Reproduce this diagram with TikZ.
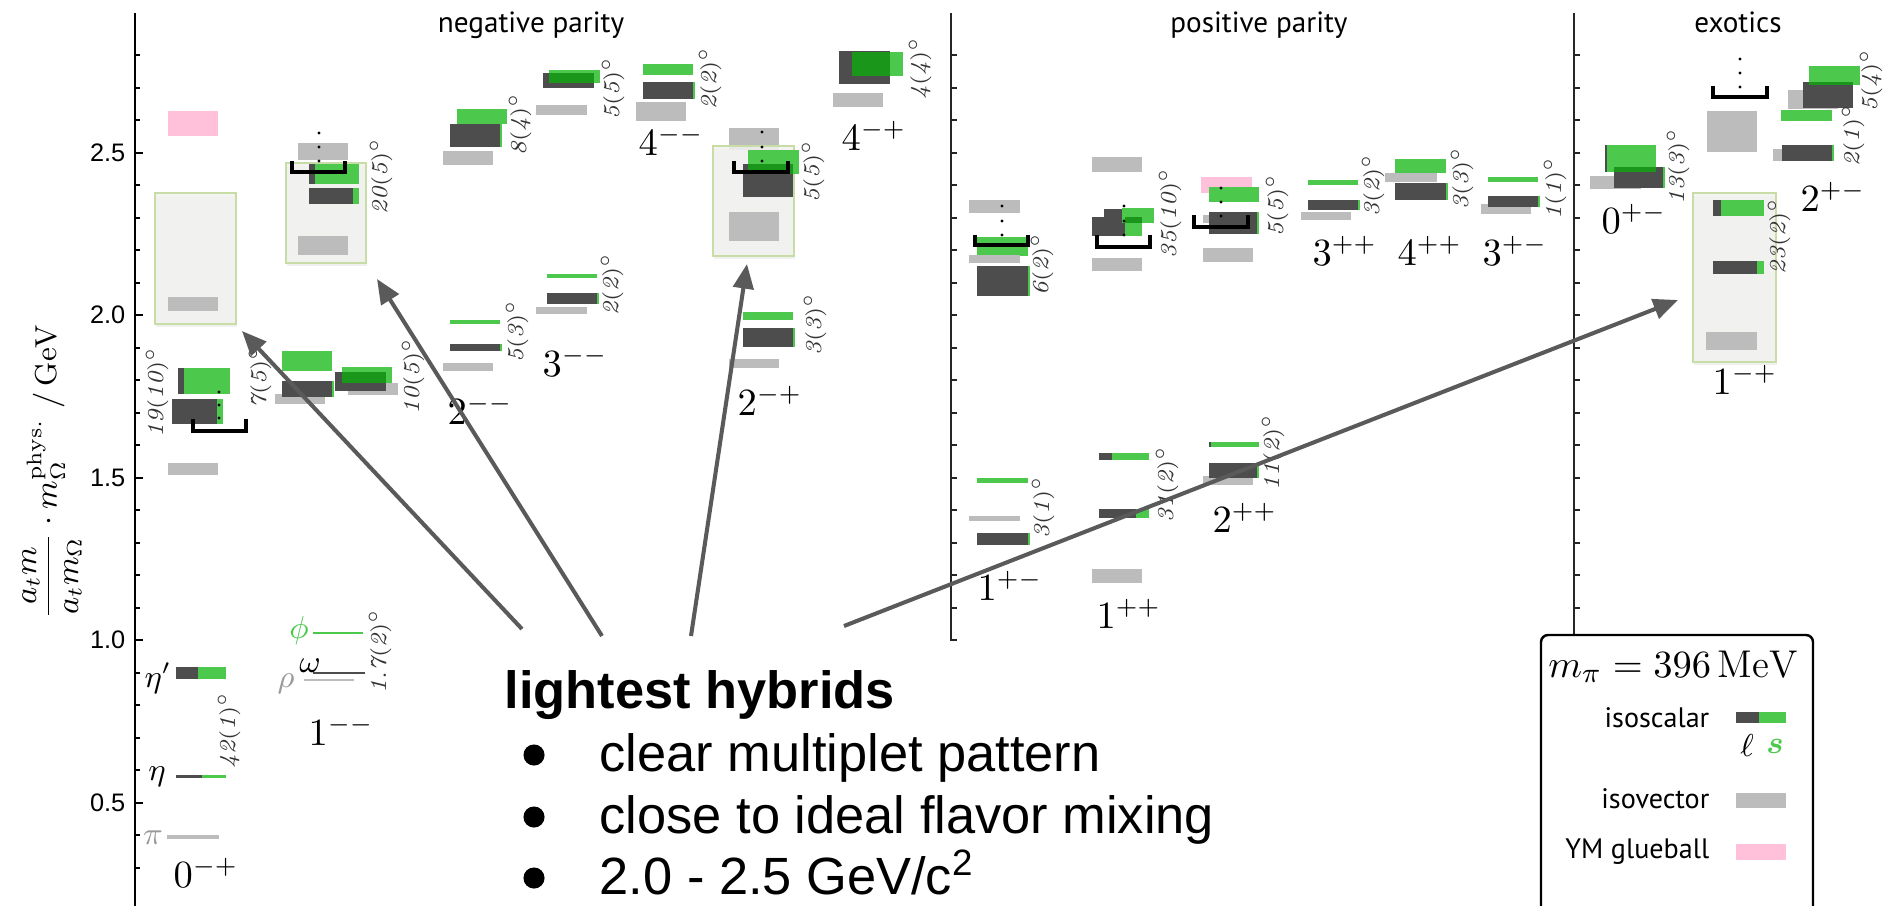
\documentclass[tikz,border=0pt]{standalone}
\usepackage{fontspec}
\usepackage{amsmath}
\usepackage{amssymb}
\usetikzlibrary{arrows.meta,shadows}

\newfontfamily\ptsans{PT Sans}
\newfontfamily\arial{Liberation Sans}

\definecolor{isoL}{RGB}{77,77,77}
\definecolor{isoS}{RGB}{76,201,76}
\definecolor{isoV}{RGB}{188,188,188}
\definecolor{glue}{RGB}{255,192,218}
\definecolor{mixd}{RGB}{26,150,26}
\definecolor{hybfill}{RGB}{242,242,240}
\definecolor{hybedge}{RGB}{200,220,165}
\definecolor{arrgray}{RGB}{90,90,90}

\begin{document}
\begin{tikzpicture}[x=0.01cm, y=-0.01cm,
    dk/.style={fill=isoL}, gr/.style={fill=isoS}, iv/.style={fill=isoV},
    gb/.style={fill=glue}, mx/.style={fill=mixd},
    hyb/.style={fill=hybfill, fill opacity=0.85, draw=hybedge, line width=0.6pt,
        drop shadow={opacity=0.12, shadow xshift=0.4pt, shadow yshift=-0.8pt}},
    brk/.style={draw=black, line width=1pt},
    ang/.style={rotate=90, inner sep=0pt, text=black!80, font=\fontsize{6.5}{7}\selectfont},
    jpc/.style={anchor=base west, inner sep=0pt, font=\fontsize{10.5}{12}\selectfont},
    pl/.style={inner sep=0pt, font=\fontsize{8.7}{10}\selectfont},
    ttl/.style={anchor=base, font=\ptsans\fontsize{8.3}{10}\selectfont},
    tlab/.style={anchor=east, inner sep=0pt, font=\arial\fontsize{7.2}{8}\selectfont},
    leg/.style={anchor=base east, inner sep=0pt, font=\ptsans\fontsize{8}{10}\selectfont},
    btxt/.style={anchor=base west, inner sep=0pt, font=\arial\fontsize{14.9}{18}\selectfont},
    hyarr/.style={draw=arrgray, line width=1.15pt, -{Triangle[length=7pt,width=5.8pt]}}]

    \useasboundingbox (0,0) rectangle (1884,906);

    % axes
    \draw[line width=0.85pt] (135,13) -- (135,906);
    \foreach \i in {3,...,28} \draw[line width=0.5pt] (135,{152.7+(25-\i)*32.5}) -- ++(5,0);
    \foreach \i in {5,10,...,25} \draw[line width=0.6pt] (135,{152.7+(25-\i)*32.5}) -- ++(8,0);
    \foreach \v/\i in {0.5/5,1.0/10,1.5/15,2.0/20,2.5/25}
        \node[tlab] at (126,{152.7+(25-\i)*32.5}) {\v};
    \draw[line width=0.6pt, black!85] (951,13) -- (951,641);
    \foreach \i in {10,...,28} \draw[line width=0.5pt, black!85] (951,{152.7+(25-\i)*32.5}) -- ++(6,0);
    \draw[line width=0.6pt, black!85] (1574,13) -- (1574,641);
    \foreach \i in {10,...,28} \draw[line width=0.5pt, black!85] (1574,{152.7+(25-\i)*32.5}) -- ++(6,0);

    \node[rotate=90, font=\fontsize{8.6}{10}\selectfont] (ylab) at (52,472)
        {$\dfrac{a_t m}{a_t m_\Omega}\cdot m_\Omega^{\mathrm{phys.}}\ /\,\mathrm{GeV}$};

    \node[ttl] (neg) at (531,32) {negative parity};
    \node[ttl] (pos) at (1259,32) {positive parity};
    \node[ttl] (exo) at (1738,32) {exotics};

    % 0-+
    \fill[gb] (168,111) rectangle (218,136);
    \path[hyb] (155,193) rectangle (236,324);
    \fill[iv] (168,297) rectangle (218,311);
    \fill[dk] (178,368) rectangle (184,394);
    \fill[gr] (184,368) rectangle (230,394);
    \fill[dk] (172,399) rectangle (217,424);
    \fill[gr] (217,399) rectangle (223,424);
    \draw[brk] (193,419) |- (246,431) -- (246,419);
    \foreach \y in {392,405,418} \fill (219,\y) circle[radius=0.45pt];
    \fill[iv] (168,463) rectangle (218,475);
    \fill[dk] (176,667) rectangle (198,679);
    \fill[gr] (198,667) rectangle (226,679);
    \fill[dk] (176,775) rectangle (202,777.5);
    \fill[gr] (202,775) rectangle (226,777.5);
    \fill[iv] (167,835) rectangle (219,838.5);
    \node[pl, text=black!40] (pi) at (153,838) {$\pi$};
    \node[pl] (eta) at (157,777) {$\eta$};
    \node[pl] (etap) at (158,678) {$\eta'$};
    \node[ang] at (157,392) {$\mathit{19(10)}^\circ$};
    \node[ang] at (229,730) {$\mathit{42(1)}^\circ$};
    \node[jpc] (j0mp) at (173,887) {$0^{-+}$};

    % 1--
    \fill[gr] (282,351) rectangle (332,371);
    \fill[iv] (275,394) rectangle (325,404);
    \fill[dk] (282,381) rectangle (332,397);
    \fill[gr] (332,381) rectangle (334,397);
    \node[ang] at (260,377) {$\mathit{7(5)}^\circ$};
    \fill[iv] (348,383) rectangle (398,395);
    \fill[dk] (335,372) rectangle (386,391);
    \fill[gr] (342,367) rectangle (392,383);
    \fill[mx] (342,372) rectangle (386,383);
    \node[ang] at (413,376) {$\mathit{10(5)}^\circ$};
    \fill[iv] (298,143) rectangle (348,160);
    \path[hyb] (286,163) rectangle (366,263);
    \fill[dk] (309,164) rectangle (315,184);
    \fill[gr] (315,164) rectangle (359,184);
    \fill[dk] (309,188) rectangle (353,204);
    \fill[gr] (353,188) rectangle (359,204);
    \fill[iv] (298,236) rectangle (348,255);
    \draw[brk] (292,161) |- (345,172) -- (345,161);
    \foreach \y in {133,147,161} \fill (319,\y) circle[radius=0.45pt];
    \node[ang] at (381,176) {$\mathit{20(5)}^\circ$};
    \fill[isoS] (313,632) rectangle (363,634);
    \fill[isoL] (313,672) rectangle (365,674);
    \fill[iv] (304,679) rectangle (354,681);
    \node[pl, text=isoS] (phi) at (299,631) {$\phi$};
    \node[pl] (omega) at (310,666) {$\omega$};
    \node[pl, text=black!40] (rho) at (286,684) {$\rho$};
    \node[ang] at (380,651) {$\mathit{1.7(2)}^\circ$};
    \node[jpc] (j1mm) at (308,745) {$1^{--}$};

    % 2--
    \fill[gr] (457,109) rectangle (507,124);
    \fill[dk] (450,124) rectangle (500,147);
    \fill[gr] (500,124) rectangle (502,147);
    \fill[iv] (443,151) rectangle (493,165);
    \node[ang] at (520,124) {$\mathit{8(4)}^\circ$};
    \fill[gr] (450,320) rectangle (500,324);
    \fill[dk] (450,344) rectangle (500,351);
    \fill[gr] (500,344) rectangle (502,351);
    \fill[iv] (443,363) rectangle (493,371);
    \node[ang] at (517,331) {$\mathit{5(3)}^\circ$};
    \node[jpc] (j2mm) at (447,424) {$2^{--}$};

    % 3--
    \fill[iv] (536,105) rectangle (587,115);
    \fill[dk] (543,73) rectangle (594,88);
    \fill[gr] (549,70) rectangle (600,83);
    \fill[mx] (549,73) rectangle (594,83);
    \node[ang] at (613,88) {$\mathit{5(5)}^\circ$};
    \fill[gr] (547,274) rectangle (597,278);
    \fill[dk] (547,293) rectangle (597,304);
    \fill[gr] (597,293) rectangle (599,304);
    \fill[iv] (536,307) rectangle (587,314);
    \node[ang] at (612,284) {$\mathit{2(2)}^\circ$};
    \node[jpc] (j3mm) at (542,376) {$3^{--}$};

    % 4--
    \fill[gr] (643,64) rectangle (693,75);
    \fill[dk] (643,82) rectangle (693,99);
    \fill[gr] (693,82) rectangle (695,99);
    \fill[iv] (636,102) rectangle (686,121);
    \node[ang] at (710,78) {$\mathit{2(2)}^\circ$};
    \node[jpc] (j4mm) at (638,155) {$4^{--}$};

    % 2-+
    \fill[iv] (729,128) rectangle (779,150);
    \path[hyb] (713,146) rectangle (794,256);
    \fill[dk] (743,164) rectangle (793,197);
    \fill[gr] (748,150) rectangle (799,174);
    \fill[mx] (748,164) rectangle (793,174);
    \fill[iv] (729,212) rectangle (779,241);
    \draw[brk] (734,161) |- (788,172) -- (788,161);
    \foreach \y in {132,147,161} \fill (762,\y) circle[radius=0.45pt];
    \node[ang] at (813,171) {$\mathit{5(5)}^\circ$};
    \fill[gr] (743,312) rectangle (793,320);
    \fill[dk] (743,328) rectangle (793,347);
    \fill[gr] (793,328) rectangle (795,347);
    \fill[iv] (729,359) rectangle (779,368);
    \node[ang] at (815,324) {$\mathit{3(3)}^\circ$};
    \node[jpc] (j2mp) at (737,415) {$2^{-+}$};

    % 4-+
    \fill[dk] (839,51) rectangle (890,84);
    \fill[gr] (852,52) rectangle (903,76);
    \fill[mx] (852,52) rectangle (890,76);
    \fill[iv] (833,93) rectangle (883,107);
    \node[ang] at (920,68) {$\mathit{4(4)}^\circ$};
    \node[jpc] (j4mp) at (841,150) {$4^{-+}$};

    % 1+-
    \fill[iv] (969,200) rectangle (1020,213);
    \fill[gr] (977,237) rectangle (1028,256);
    \fill[iv] (969,255) rectangle (1020,263);
    \fill[dk] (977,266) rectangle (1028,296);
    \fill[gr] (1028,266) rectangle (1030,296);
    \draw[brk] (975,235) |- (1028,245) -- (1028,235);
    \foreach \y in {206,221,235} \fill (1002,\y) circle[radius=0.45pt];
    \node[ang] at (1042,264) {$\mathit{6(2)}^\circ$};
    \fill[gr] (977,478) rectangle (1028,483);
    \fill[iv] (969,516) rectangle (1020,521);
    \fill[dk] (977,533) rectangle (1028,545);
    \fill[gr] (1028,533) rectangle (1030,545);
    \node[ang] at (1043,507) {$\mathit{3(1)}^\circ$};
    \node[jpc] (j1pm) at (977,600) {$1^{+-}$};

    % 1++
    \fill[iv] (1092,157) rectangle (1142,172);
    \fill[dk] (1104,209) rectangle (1142,223);
    \fill[dk] (1092,217) rectangle (1142,236);
    \fill[gr] (1125,218) rectangle (1142,236);
    \fill[gr] (1122,208) rectangle (1154,223);
    \fill[mx] (1125,217) rectangle (1142,223);
    \draw[brk] (1097,235) |- (1150,247) -- (1150,235);
    \foreach \y in {206,221,235} \fill (1124,\y) circle[radius=0.45pt];
    \fill[iv] (1092,258) rectangle (1142,271);
    \node[ang] at (1170,213) {$\mathit{35(10)}^\circ$};
    \fill[dk] (1099,453) rectangle (1112,460);
    \fill[gr] (1112,453) rectangle (1149,460);
    \fill[dk] (1099,509) rectangle (1136,518);
    \fill[gr] (1136,509) rectangle (1149,518);
    \fill[iv] (1092,569) rectangle (1142,583);
    \node[ang] at (1167,484) {$\mathit{31(2)}^\circ$};
    \node[jpc] (j1pp) at (1096,628) {$1^{++}$};

    % 2++
    \fill[gb] (1201,177) rectangle (1252,193);
    \fill[gr] (1209,187) rectangle (1259,202);
    \fill[iv] (1203,215) rectangle (1250,223);
    \fill[dk] (1209,212) rectangle (1257,234);
    \fill[gr] (1257,212) rectangle (1259,234);
    \draw[brk] (1194,215) |- (1248,227) -- (1248,215);
    \foreach \y in {188,202,216} \fill (1221,\y) circle[radius=0.45pt];
    \fill[iv] (1203,248) rectangle (1253,262);
    \node[ang] at (1277,205) {$\mathit{5(5)}^\circ$};
    \fill[dk] (1209,442) rectangle (1211,447);
    \fill[gr] (1211,442) rectangle (1259,447);
    \fill[iv] (1203,476) rectangle (1253,485);
    \fill[dk] (1209,463) rectangle (1257,478);
    \fill[gr] (1257,463) rectangle (1259,478);
    \node[ang] at (1273,452) {$\mathit{11(2)}^\circ$};
    \node[jpc] (j2pp) at (1212,532) {$2^{++}$};

    % 3++
    \fill[gr] (1308,180) rectangle (1358,185);
    \fill[dk] (1308,200) rectangle (1358,210);
    \fill[gr] (1358,200) rectangle (1360,210);
    \fill[iv] (1301,212) rectangle (1351,220);
    \node[ang] at (1373,185) {$\mathit{3(2)}^\circ$};
    \node[jpc] (j3pp) at (1312,265) {$3^{++}$};

    % 4++
    \fill[gr] (1395,159) rectangle (1446,173);
    \fill[iv] (1385,173) rectangle (1437,182);
    \fill[dk] (1395,183) rectangle (1446,200);
    \fill[gr] (1446,183) rectangle (1448,200);
    \node[ang] at (1462,178) {$\mathit{3(3)}^\circ$};
    \node[jpc] (j4pp) at (1397,265) {$4^{++}$};

    % 3+-
    \fill[gr] (1488,177) rectangle (1538,182);
    \fill[iv] (1481,204) rectangle (1531,214);
    \fill[dk] (1488,196) rectangle (1538,207);
    \fill[gr] (1538,196) rectangle (1540,207);
    \node[ang] at (1555,188) {$\mathit{1(1)}^\circ$};
    \node[jpc] (j3pm) at (1482,265) {$3^{+-}$};

    % 0+-
    \fill[iv] (1590,176) rectangle (1641,189);
    \fill[dk] (1605,145) rectangle (1607,172);
    \fill[gr] (1607,145) rectangle (1656,172);
    \fill[dk] (1614,167) rectangle (1663,188);
    \fill[gr] (1663,167) rectangle (1665,188);
    \fill[mx] (1614,167) rectangle (1656,172);
    \node[ang] at (1678,166) {$\mathit{13(3)}^\circ$};
    \node[jpc] (j0pm) at (1601,233) {$0^{+-}$};

    % 1-+
    \fill[iv] (1707,111) rectangle (1757,152);
    \draw[brk] (1713,86) |- (1767,97) -- (1767,86);
    \foreach \y in {59,73,87} \fill (1740,\y) circle[radius=0.45pt];
    \path[hyb] (1693,193) rectangle (1776,362);
    \fill[dk] (1713,200) rectangle (1721,216);
    \fill[gr] (1721,200) rectangle (1764,216);
    \fill[dk] (1713,261) rectangle (1757,274);
    \fill[gr] (1757,261) rectangle (1764,274);
    \fill[iv] (1706,332) rectangle (1757,350);
    \node[ang] at (1779,236) {$\mathit{23(2)}^\circ$};
    \node[jpc] (j1mp) at (1712,394) {$1^{-+}$};

    % 2+-
    \fill[iv] (1788,90) rectangle (1838,109);
    \fill[dk] (1803,82) rectangle (1853,108);
    \fill[gr] (1809,66) rectangle (1860,85);
    \fill[mx] (1809,82) rectangle (1853,85);
    \fill[gr] (1781,110) rectangle (1832,121);
    \fill[iv] (1773,149) rectangle (1823,161);
    \fill[dk] (1782,145) rectangle (1832,161);
    \fill[gr] (1832,145) rectangle (1834,161);
    \node[ang] at (1871,80) {$\mathit{5(4)}^\circ$};
    \node[ang] at (1853,135) {$\mathit{2(1)}^\circ$};
    \node[jpc] (j2pm) at (1800,211) {$2^{+-}$};

    % legend
    \filldraw[fill=white, draw=black, line width=0.7pt, rounded corners=2pt]
        (1541,906) -- (1541,635) -- (1813,635) -- (1813,906);
    \node[anchor=base, font=\fontsize{11}{13}\selectfont] (mpi) at (1673,677) {$m_\pi = 396\,\mathrm{MeV}$};
    \node[leg] (lgs) at (1710,727) {isoscalar};
    \fill[dk] (1736,712) rectangle (1759,723);
    \fill[gr] (1759,712) rectangle (1786,723);
    \node[pl] (lgl) at (1747,746) {$\ell$};
    \node[pl, text=isoS] (lgst) at (1775,746) {$\boldsymbol{s}$};
    \node[leg] (lgv) at (1710,808) {isovector};
    \fill[iv] (1736,793) rectangle (1786,808);
    \node[leg] (lgg) at (1710,858) {YM glueball};
    \fill[gb] (1736,844) rectangle (1786,860);

    % hybrid annotation
    \node[btxt, font=\arial\bfseries\fontsize{14.9}{18}\selectfont] (lh) at (504,708) {lightest hybrids};
    \node[btxt] (b1) at (599,771) {clear multiplet pattern};
    \node[btxt] (b2) at (599,833) {close to ideal flavor mixing};
    \node[btxt] (b3) at (599,894) {2.0 - 2.5 GeV/c\textsuperscript{2}};
    \foreach \y in {771,833,894} \fill (534,\y-16) circle[radius=3pt];

    \coordinate (a1) at (522,629);
    \coordinate (a2) at (602,636);
    \coordinate (a3) at (691,636);
    \coordinate (a4) at (844,626);
    \coordinate (h1) at (242,331);
    \coordinate (h2) at (377,279);
    \coordinate (h3) at (747,264);
    \coordinate (h4) at (1678,300);
    \draw[hyarr] (a1) -- (h1);
    \draw[hyarr] (a2) -- (h2);
    \draw[hyarr] (a3) -- (h3);
    \draw[hyarr] (a4) -- (h4);
\end{tikzpicture}
\end{document}
